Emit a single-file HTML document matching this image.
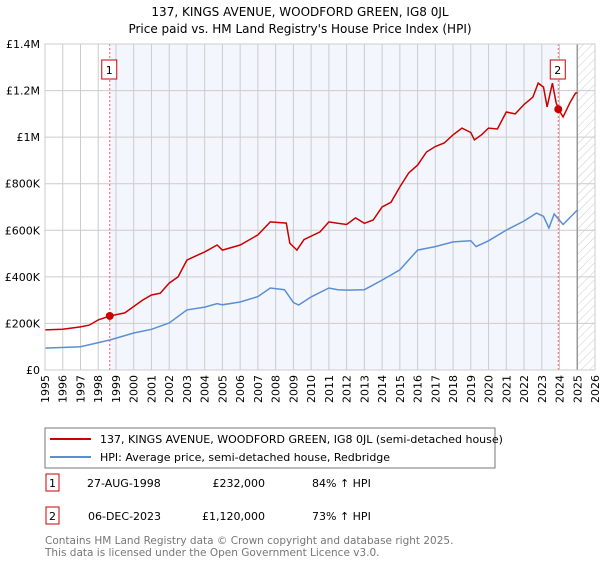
<!DOCTYPE html>
<html><head><meta charset="utf-8"><style>
body{margin:0;background:#fff;font-family:"DejaVu Sans","Liberation Sans",sans-serif;}
svg text{font-family:"DejaVu Sans","Liberation Sans",sans-serif;}
</style></head><body>
<svg id="c" width="600" height="560" xmlns="http://www.w3.org/2000/svg">
<defs><pattern id="hatch" width="6" height="6" patternUnits="userSpaceOnUse" patternTransform="rotate(45)"><line x1="0" y1="0" x2="0" y2="6" stroke="#ccc" stroke-width="1"/></pattern></defs>
<text x="300" y="16" text-anchor="middle" font-size="12">137, KINGS AVENUE, WOODFORD GREEN, IG8 0JL</text>
<text x="300" y="33" text-anchor="middle" font-size="12">Price paid vs. HM Land Registry's House Price Index (HPI)</text>
<g id="plot"></g>
<rect x="45" y="428" width="450" height="40" fill="#fff" stroke="#777"/>
<line x1="50" y1="439" x2="91" y2="439" stroke="#cc0000" stroke-width="2"/>
<text x="100" y="443" font-size="11">137, KINGS AVENUE, WOODFORD GREEN, IG8 0JL (semi-detached house)</text>
<line x1="50" y1="457" x2="91" y2="457" stroke="#5b8fd4" stroke-width="2"/>
<text x="100" y="461" font-size="11">HPI: Average price, semi-detached house, Redbridge</text>
<g font-size="11">
<rect x="46" y="474" width="13" height="17" fill="#fff" stroke="#cc0000"/><text x="52.5" y="487" text-anchor="middle">1</text>
<text x="87" y="487">27-AUG-1998</text><text x="265" y="487" text-anchor="end">£232,000</text><text x="312" y="487">84% ↑ HPI</text></g>
<g font-size="11">
<rect x="46" y="507" width="13" height="17" fill="#fff" stroke="#cc0000"/><text x="52.5" y="520" text-anchor="middle">2</text>
<text x="88" y="520">06-DEC-2023</text><text x="265" y="520" text-anchor="end">£1,120,000</text><text x="312" y="520">73% ↑ HPI</text></g>
<text x="45" y="544" font-size="10.5" fill="#777">Contains HM Land Registry data © Crown copyright and database right 2025.</text>
<text x="45" y="556" font-size="10.5" fill="#777">This data is licensed under the Open Government Licence v3.0.</text>
</svg>
<script>
const yearTicks=[1995,1996,1997,1998,1999,2000,2001,2002,2003,2004,2005,2006,2007,2008,2009,2010,2011,2012,2013,2014,2015,2016,2017,2018,2019,2020,2021,2022,2023,2024,2025,2026];
const valueTicks=[0,200000,400000,600000,800000,1000000,1200000,1400000];
const valueTickLabels=["£0","£200K","£400K","£600K","£800K","£1M","£1.2M","£1.4M"];
const redT=[1995,1996,1997,1997.5,1998,1998.65,1999.5,2000.5,2001,2001.5,2002,2002.5,2003,2003.5,2004,2004.7,2005,2006,2007,2007.7,2008.6,2008.8,2009.2,2009.6,2010.5,2011,2011.5,2012,2012.5,2013,2013.5,2014,2014.5,2015,2015.5,2016,2016.5,2017,2017.5,2018,2018.5,2019,2019.2,2019.6,2020,2020.5,2021,2021.5,2022,2022.5,2022.8,2023.1,2023.3,2023.6,2023.8,2023.93,2024.2,2024.6,2024.9,2025];
const redV=[172000,175000,185000,193000,215000,232000,245000,300000,322000,330000,373000,400000,472000,490000,507000,537000,515000,537000,580000,636000,631000,545000,515000,560000,593000,636000,630000,625000,653000,630000,644000,700000,720000,786000,846000,880000,936000,960000,975000,1010000,1039000,1020000,988000,1010000,1039000,1035000,1108000,1100000,1140000,1172000,1232000,1215000,1130000,1232000,1150000,1120000,1087000,1150000,1189000,1190000];
const blueT=[1995,1997,1998.65,2000,2001,2002,2003,2004,2004.7,2005,2006,2007,2007.7,2008.5,2009,2009.3,2010,2011,2011.5,2012,2013,2014,2015,2016,2017,2018,2019,2019.3,2020,2021,2022,2022.7,2023.1,2023.4,2023.7,2024.2,2025];
const blueV=[94000,100000,129000,159000,175000,202000,258000,270000,285000,280000,292000,315000,352000,345000,290000,279000,314000,352000,345000,343000,345000,386000,430000,515000,530000,550000,555000,530000,555000,601000,640000,674000,660000,610000,670000,625000,687000];
const sales=[{n:"1",t:1998.65,v:232000},{n:"2",t:2023.93,v:1120000}];
const NS="http://www.w3.org/2000/svg";
const X0=45,X1=595,Y0=370,Y1=44;
const xs=t=>X0+(t-1995)/(2026-1995)*(X1-X0);
const ys=v=>Y0-v/1400000*(Y0-Y1);
const g=document.getElementById('plot');
function mk(tag,at){const e=document.createElementNS(NS,tag);for(const k in at)e.setAttribute(k,at[k]);g.appendChild(e);return e;}
let e=mk('rect',{x:xs(sales[0].t),y:Y1,width:xs(sales[1].t)-xs(sales[0].t),height:Y0-Y1,fill:'#f3f6fd'});


e=mk('rect',{x:xs(2025),y:Y1,width:X1-xs(2025),height:Y0-Y1,fill:'url(#hatch)'});


yearTicks.forEach(t=>{const l=mk('line',{x1:xs(t),x2:xs(t),y1:Y1,y2:Y0,stroke:'#ccc'});


const tx=mk('text',{x:0,y:0,'font-size':11,'text-anchor':'end',transform:`translate(${xs(t)+4},${Y0+5}) rotate(-90)`});tx.textContent=t;

});
valueTicks.forEach((v,i)=>{const l=mk('line',{x1:X0,x2:X1,y1:ys(v),y2:ys(v),stroke:'#ccc'});


const tx=mk('text',{x:X0-5,y:ys(v)+4,'font-size':11,'text-anchor':'end'});tx.textContent=valueTickLabels[i];

});
e=mk('line',{x1:xs(2025),x2:xs(2025),y1:Y1,y2:Y0,stroke:'#999','stroke-width':1.5});


function path(T,V){return T.map((t,i)=>(i?'L':'M')+xs(t).toFixed(1)+','+ys(V[i]).toFixed(1)).join('');}
e=mk('path',{d:path(blueT,blueV),fill:'none',stroke:'#5b8fd4','stroke-width':1.5});


e=mk('path',{d:path(redT,redV),fill:'none',stroke:'#cc0000','stroke-width':1.5});


sales.forEach(s=>{const l=mk('line',{x1:xs(s.t),x2:xs(s.t),y1:Y1,y2:Y0,stroke:'#f06060','stroke-dasharray':'2,2'});


const c=mk('circle',{cx:xs(s.t),cy:ys(s.v),r:4,fill:'#cc0000'});


const b=mk('rect',{x:xs(s.t)-8,y:60,width:15,height:19,fill:'#fff',stroke:'#cc0000'});


const tx=mk('text',{x:xs(s.t)-0.5,y:74,'font-size':11,'text-anchor':'middle'});tx.textContent=s.n;

});
e=mk('rect',{x:X0,y:Y1,width:X1-X0,height:Y0-Y1,fill:'none',stroke:'#ccc'});


</script>
</body></html>
